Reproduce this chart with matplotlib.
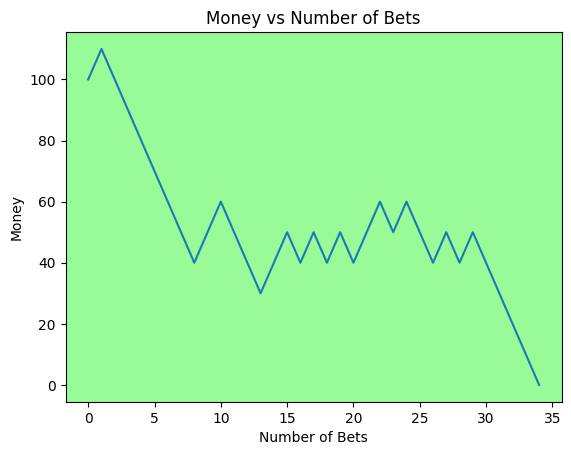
import matplotlib
matplotlib.use("Agg")
import matplotlib.pyplot as plt

bets = list(range(35))
money = [100, 110, 100, 90, 80, 70, 60, 50, 40, 50, 60, 50, 40, 30, 40, 50, 40, 50,
         40, 50, 40, 50, 60, 50, 60, 50, 40, 50, 40, 50, 40, 30, 20, 10, 0]

fig, ax = plt.subplots(figsize=(6.4, 4.8), dpi=100)
ax.set_facecolor("palegreen")
ax.plot(bets, money)
ax.set_title("Money vs Number of Bets")
ax.set_xlabel("Number of Bets")
ax.set_ylabel("Money")
fig.savefig("out.png", bbox_inches="tight")
